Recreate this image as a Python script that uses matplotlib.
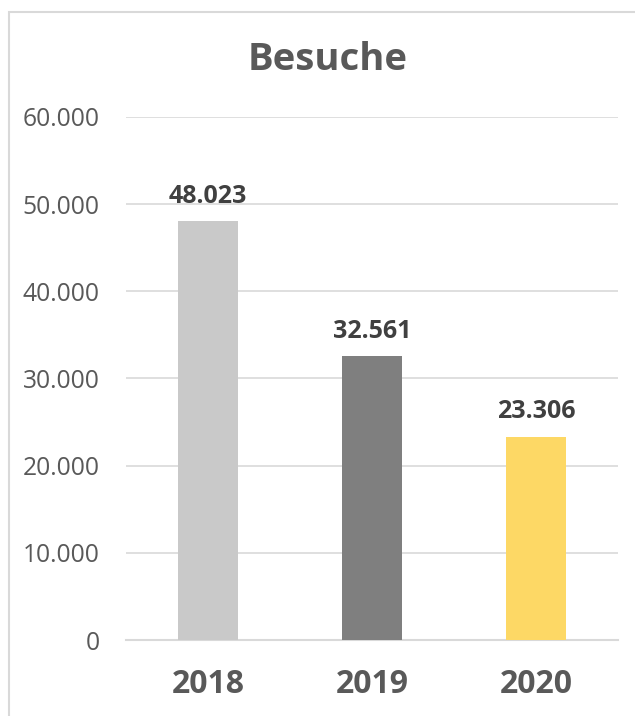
import matplotlib
matplotlib.use("Agg")
from matplotlib import pyplot as plt
from matplotlib.patches import Rectangle

years = ["2018", "2019", "2020"]
visits = [48023, 32561, 23306]
bar_colors = ["#C9C9C9", "#7F7F7F", "#FDD865"]
yticks = [0, 10000, 20000, 30000, 40000, 50000, 60000]


def de_fmt(v):
    return "{:,}".format(int(v)).replace(",", ".")


plt.rcParams['font.family'] = ['Open Sans', 'DejaVu Sans']

fig = plt.figure(figsize=(6.35, 7.16), dpi=100)
# chart border (runs off the right and bottom edge)
fig.patches.append(Rectangle((9 / 635, -0.1), 1.2, 1 - 12 / 716 + 0.1, transform=fig.transFigure,
                             fill=False, edgecolor="#D9D9D9", lw=1.5))

ax = fig.add_axes([126 / 635, 1 - 640 / 716, (618 - 126) / 635, (640 - 117) / 716])
x = range(len(years))
bars = ax.bar(x, visits, width=0.36, color=bar_colors, zorder=3)
ax.set_xlim(-0.5, 2.5)
ax.set_ylim(0, 60000)
ax.set_yticks(yticks)
ax.set_yticklabels([de_fmt(t) for t in yticks], fontsize=17.7, color="#595959")
ax.set_xticks(list(x))
ax.set_xticklabels(years, fontsize=23, fontweight="bold", color="#595959")
ax.tick_params(axis="both", length=0)
ax.tick_params(axis="y", pad=19)
ax.tick_params(axis="x", pad=20)
ax.grid(axis="y", color="#D9D9D9", lw=1.2, zorder=0)
for s in ["top", "right", "left"]:
    ax.spines[s].set_visible(False)
ax.spines["bottom"].set_color("#D9D9D9")
ax.spines["bottom"].set_linewidth(1.5)

for b, v in zip(bars, visits):
    ax.annotate(de_fmt(v), (b.get_x() + b.get_width() / 2, v), xytext=(0, 9),
                textcoords="offset points", ha="center", va="bottom",
                fontsize=18, fontweight="bold", color="#404040")

fig.text(328 / 635, 1 - 60 / 716, "Besuche", ha="center", va="center",
         fontsize=27.5, fontweight="bold", color="#595959")

plt.savefig("out.png", dpi=100)
